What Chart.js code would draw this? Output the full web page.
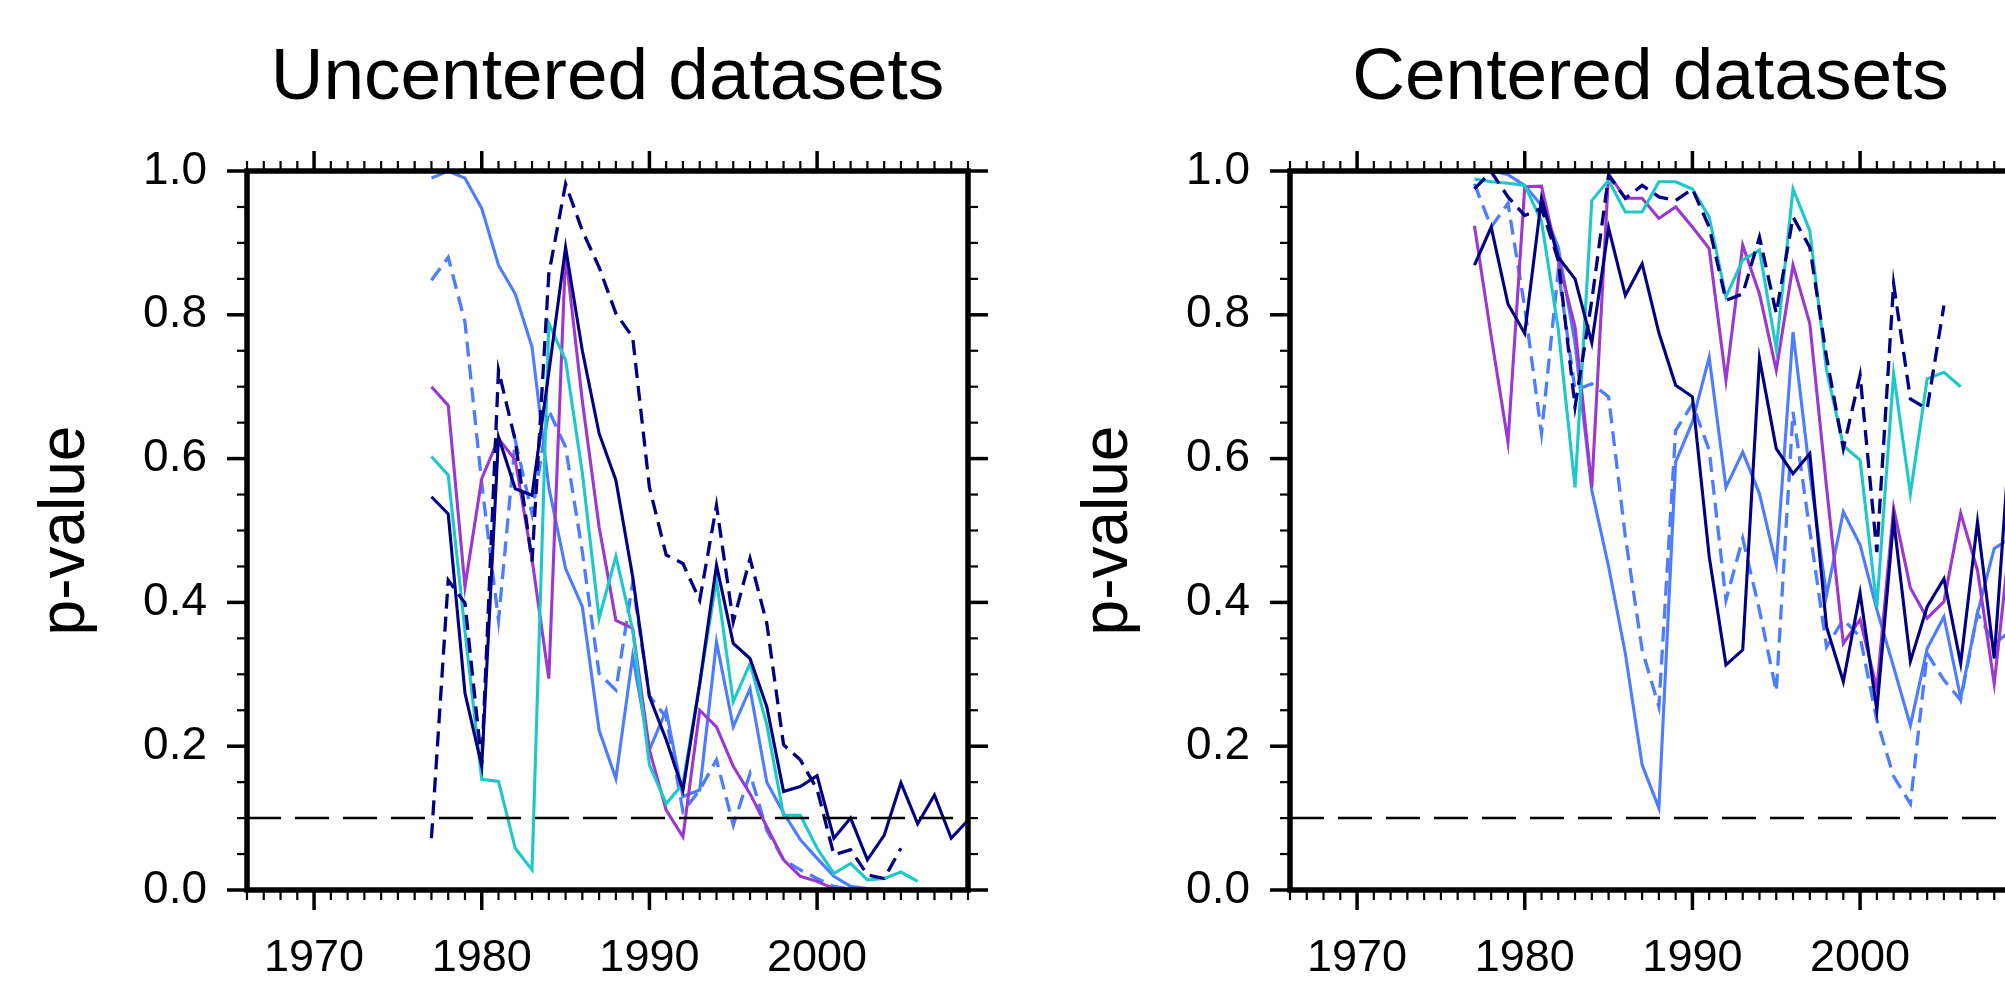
<!DOCTYPE html>
<html>
<head>
<meta charset="utf-8">
<title>p-value panels</title>
<script src="https://cdn.jsdelivr.net/npm/chart.js@4.4.1/dist/chart.umd.min.js"></script>
<style>
    html, body { margin: 0; padding: 0; background: #fff; width: 2005px; height: 982px; overflow: hidden; }
    .panel { position: absolute; top: 0; width: 1000px; height: 982px; }
    #left-panel { left: 0; }
    #right-panel { left: 1043px; }
</style>
</head>
<body>
<div class="panel" id="left-panel"><canvas id="uncChart" width="1000" height="982"></canvas></div>
<div class="panel" id="right-panel"><canvas id="cenChart" width="1000" height="982"></canvas></div>
<script>
'use strict';

// years on the x axis
const years = [1977, 1978, 1979, 1980, 1981, 1982, 1983, 1984, 1985, 1986, 1987,
               1988, 1989, 1990, 1991, 1992, 1993, 1994, 1995, 1996, 1997, 1998,
               1999, 2000, 2001, 2002, 2003, 2004, 2005, 2006, 2007, 2008, 2009];
const xTickYears = [1970, 1980, 1990, 2000];
const yTickValues = [0, 0.2, 0.4, 0.6, 0.8, 1.0];
const xMin = 1966;
const xMax = 2009;
const threshold = 0.1;

// uncentered datasets
const uncNavy = [0.547, 0.523, 0.274, 0.172, 0.63, 0.558, 0.549, 0.72, 0.894, 0.75, 0.635,
                 0.57, 0.436, 0.269, 0.209, 0.139, 0.287, 0.452, 0.343, 0.322, 0.255, 0.137,
                 0.144, 0.159, 0.072, 0.1, 0.042, 0.076, 0.149, 0.092, 0.132, 0.072, 0.097];
const uncNavyDash = [0.072, 0.431, 0.399, 0.176, 0.723, 0.625, 0.457, 0.857, 0.982, 0.917, 0.866,
                     0.802, 0.769, 0.56, 0.466, 0.454, 0.403, 0.535, 0.373, 0.461, 0.371, 0.202,
                     0.181, 0.14, 0.049, 0.056, 0.021, 0.016, 0.058, null, null, null, null];
const uncBlue = [0.99, 1.0, 0.99, 0.948, 0.869, 0.829, 0.755, 0.56, 0.447, 0.394, 0.222,
                 0.155, 0.325, 0.195, 0.25, 0.13, 0.139, 0.345, 0.227, 0.28, 0.15, 0.107,
                 0.07, 0.044, 0.019, 0.005, 0.002, 0.001, null, null, null, null, null];
const uncBlueDash = [0.848, 0.88, 0.79, 0.565, 0.375, 0.625, 0.523, 0.667, 0.616, 0.47, 0.301,
                     0.278, 0.427, 0.27, 0.24, 0.109, 0.139, 0.181, 0.09, 0.162, 0.083, 0.042,
                     0.028, 0.016, 0.005, 0.001, null, null, null, null, null, null, null];
const uncPurple = [0.70, 0.674, 0.422, 0.572, 0.628, 0.598, 0.46, 0.294, 0.885, 0.68, 0.505,
                   0.375, 0.364, 0.195, 0.111, 0.074, 0.25, 0.227, 0.172, 0.134, 0.088, 0.042,
                   0.019, 0.012, 0.002, 0.001, null, null, null, null, null, null, null];
const uncCyan = [0.603, 0.577, 0.36, 0.154, 0.151, 0.058, 0.028, 0.788, 0.737, 0.58, 0.378,
                 0.464, 0.362, 0.174, 0.12, 0.148, 0.287, 0.431, 0.262, 0.315, 0.23, 0.104,
                 0.104, 0.058, 0.023, 0.037, 0.014, 0.016, 0.025, 0.012, null, null, null];

// centered datasets
const cenNavy = [0.869, 0.922, 0.815, 0.774, 0.962, 0.88, 0.85, 0.761, 0.921, 0.827, 0.871,
                 0.775, 0.702, 0.686, 0.464, 0.313, 0.334, 0.739, 0.614, 0.579, 0.607, 0.366,
                 0.29, 0.413, 0.25, 0.515, 0.318, 0.394, 0.433, 0.315, 0.512, 0.322, 0.65];
const cenNavyDash = [0.975, 0.999, 0.964, 0.938, 0.948, 0.876, 0.672, 0.82, 0.994, 0.962, 0.98,
                     0.964, 0.959, 0.975, 0.922, 0.82, 0.829, 0.908, 0.802, 0.936, 0.894, 0.741,
                     0.614, 0.716, 0.47, 0.843, 0.683, 0.669, 0.813, null, null, null, null];
const cenBlue = [1.0, 1.0, 0.995, 0.98, 0.952, 0.894, 0.76, 0.556, 0.45, 0.329, 0.174,
                 0.114, 0.595, 0.651, 0.741, 0.56, 0.609, 0.551, 0.452, 0.776, 0.58, 0.41,
                 0.526, 0.48, 0.39, 0.31, 0.229, 0.336, 0.38, 0.267, 0.385, 0.475, 0.49];
const cenBlueDash = [0.982, 0.922, 0.955, 0.81, 0.635, 0.862, 0.695, 0.704, 0.686, 0.491, 0.334,
                     0.255, 0.639, 0.676, 0.612, 0.403, 0.489, 0.389, 0.276, 0.665, 0.5, 0.338,
                     0.376, 0.352, 0.236, 0.158, 0.12, 0.329, 0.292, 0.264, 0.385, 0.343, 0.36];
const cenPurple = [0.924, 0.77, 0.623, 0.978, 0.979, 0.876, 0.783, 0.56, 0.996, 0.962, 0.962,
                   0.934, 0.95, 0.922, 0.892, 0.709, 0.897, 0.829, 0.723, 0.869, 0.788, 0.56,
                   0.343, 0.376, 0.28, 0.531, 0.42, 0.378, 0.401, 0.524, 0.445, 0.287, 0.5];
const cenCyan = [0.989, 0.985, 0.983, 0.98, 0.93, 0.78, 0.56, 0.959, 0.987, 0.943, 0.943,
                 0.985, 0.985, 0.975, 0.936, 0.825, 0.876, 0.89, 0.753, 0.975, 0.917, 0.723,
                 0.618, 0.598, 0.394, 0.718, 0.551, 0.711, 0.72, 0.7, null, null, null];

const NAVY = '#000080';
const BLUE = '#4d7cff';
const PURPLE = '#9a38d0';
const CYAN = '#1ec8c8';

Chart.defaults.font.family = "'Liberation Sans', Arial, sans-serif";
Chart.defaults.color = '#000';

function series(values, color, dashed) {
    return {
        data: values.map((v, i) => ({ x: years[i], y: v })),
        borderColor: color,
        borderWidth: dashed ? 3.3 : 3.1,
        borderDash: dashed ? [15, 8] : [],
        pointRadius: 0,
        fill: false,
        tension: 0
    };
}

// box with outward ticks on all four sides
const framePlugin = {
    id: 'frame',
    afterDraw(chart) {
        const { ctx, chartArea: a, scales: { x, y } } = chart;
        ctx.save();
        ctx.strokeStyle = '#000';
        ctx.lineCap = 'butt';
        const seg = (x1, y1, x2, y2) => {
            ctx.beginPath(); ctx.moveTo(x1, y1); ctx.lineTo(x2, y2); ctx.stroke();
        };
        for (let yr = xMin; yr <= xMax; yr++) {
            const px = x.getPixelForValue(yr);
            const major = xTickYears.includes(yr);
            const len = major ? 20 : 10;
            ctx.lineWidth = major ? 3.5 : 2.2;
            seg(px, a.bottom, px, a.bottom + len);
            seg(px, a.top, px, a.top - len);
        }
        for (let i = 0; i <= 20; i++) {
            const v = i * 0.05;
            const py = y.getPixelForValue(v);
            const major = i % 4 === 0;
            const len = major ? 20 : 10;
            ctx.lineWidth = major ? 3.5 : 2.2;
            seg(a.left, py, a.left - len, py);
            seg(a.right, py, a.right + len, py);
        }
        ctx.lineWidth = 5.5;
        ctx.strokeRect(a.left, a.top, a.right - a.left, a.bottom - a.top);
        ctx.restore();
    }
};

function makeChart(canvasId, title, navy, navyDash, blue, blueDash, purple, cyan) {
    const ctx = document.getElementById(canvasId).getContext('2d');
    return new Chart(ctx, {
        type: 'line',
        data: {
            datasets: [
                {
                    data: [{ x: xMin, y: threshold }, { x: xMax, y: threshold }],
                    borderColor: '#000', borderWidth: 2.5, borderDash: [34, 14],
                    pointRadius: 0, fill: false
                },
                series(navy, NAVY, false),
                series(navyDash, NAVY, true),
                series(cyan, CYAN, false),
                series(purple, PURPLE, false),
                series(blue, BLUE, false),
                series(blueDash, BLUE, true)
            ]
        },
        options: {
            responsive: false,
            animation: false,
            devicePixelRatio: 1,
            layout: { padding: { left: 0, right: 32, top: 0, bottom: 0 } },
            plugins: {
                legend: { display: false },
                tooltip: { enabled: false },
                title: {
                    display: true,
                    text: title,
                    fullSize: false,
                    color: '#000',
                    font: { size: 73, weight: 'normal', lineHeight: 1.2 },
                    padding: { top: 35, bottom: 48.4 }
                }
            },
            scales: {
                x: {
                    type: 'linear',
                    min: xMin,
                    max: xMax,
                    grid: { display: false, drawTicks: false },
                    border: { display: false },
                    afterBuildTicks: s => { s.ticks = xTickYears.map(v => ({ value: v })); },
                    afterFit: s => { s.height = 92; },
                    ticks: {
                        font: { size: 45 },
                        color: '#000',
                        padding: 42,
                        maxRotation: 0,
                        autoSkip: false,
                        callback: v => String(v)
                    }
                },
                y: {
                    min: 0,
                    max: 1,
                    grid: { display: false, drawTicks: false },
                    border: { display: false },
                    afterBuildTicks: s => { s.ticks = yTickValues.map(v => ({ value: v })); },
                    afterFit: s => { s.width = 247; },
                    ticks: {
                        font: { size: 46 },
                        color: '#000',
                        padding: 40,
                        callback: v => v.toFixed(1)
                    },
                    title: {
                        display: true,
                        text: 'p-value',
                        color: '#000',
                        font: { size: 64, lineHeight: 1.2 },
                        padding: { top: 28, bottom: 0 }
                    }
                }
            }
        },
        plugins: [framePlugin]
    });
}

makeChart('uncChart', 'Uncentered datasets', uncNavy, uncNavyDash, uncBlue, uncBlueDash, uncPurple, uncCyan);
makeChart('cenChart', 'Centered datasets', cenNavy, cenNavyDash, cenBlue, cenBlueDash, cenPurple, cenCyan);
</script>
</body>
</html>
